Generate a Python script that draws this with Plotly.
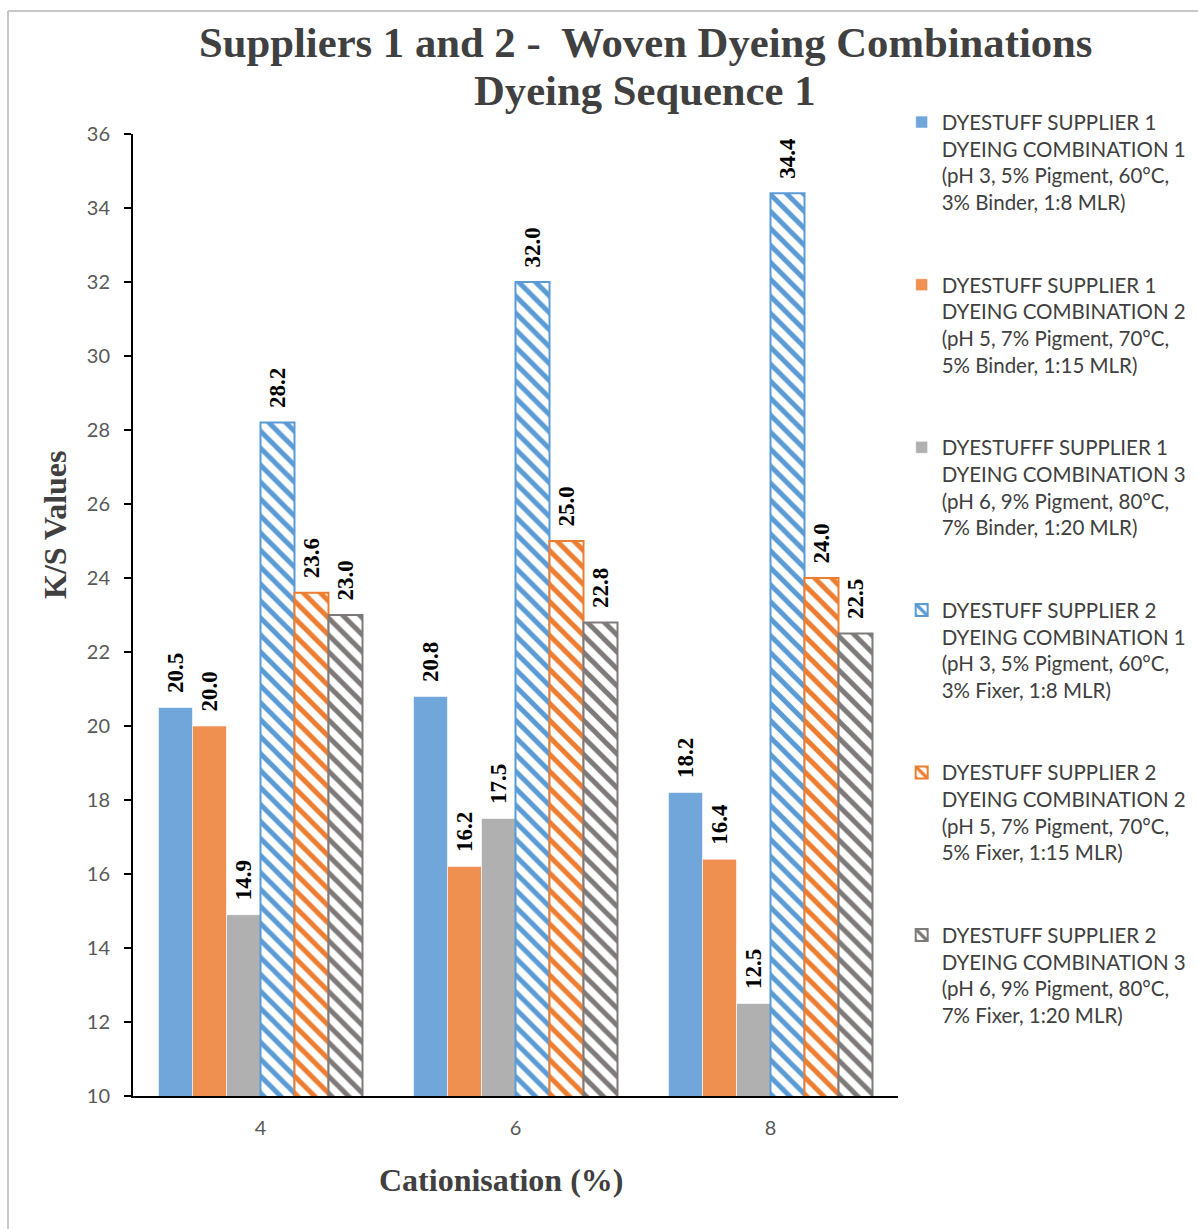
import plotly.graph_objects as go

categories = ["4", "6", "8"]
series_names = [
    "DYESTUFF SUPPLIER 1<br>DYEING COMBINATION 1<br>(pH 3, 5% Pigment, 60°C,<br>3% Binder, 1:8 MLR)",
    "DYESTUFF SUPPLIER 1<br>DYEING COMBINATION 2<br>(pH 5, 7% Pigment, 70°C,<br>5% Binder, 1:15 MLR)",
    "DYESTUFFF SUPPLIER 1<br>DYEING COMBINATION 3<br>(pH 6, 9% Pigment, 80°C,<br>7% Binder, 1:20 MLR)",
    "DYESTUFF SUPPLIER 2<br>DYEING COMBINATION 1<br>(pH 3, 5% Pigment, 60°C,<br>3% Fixer, 1:8 MLR)",
    "DYESTUFF SUPPLIER 2<br>DYEING COMBINATION 2<br>(pH 5, 7% Pigment, 70°C,<br>5% Fixer, 1:15 MLR)",
    "DYESTUFF SUPPLIER 2<br>DYEING COMBINATION 3<br>(pH 6, 9% Pigment, 80°C,<br>7% Fixer, 1:20 MLR)",
]
s1_c1 = [20.5, 20.8, 18.2]
s1_c2 = [20.0, 16.2, 16.4]
s1_c3 = [14.9, 17.5, 12.5]
s2_c1 = [28.2, 32.0, 34.4]
s2_c2 = [23.6, 25.0, 24.0]
s2_c3 = [23.0, 22.8, 22.5]
values = [s1_c1, s1_c2, s1_c3, s2_c1, s2_c2, s2_c3]
title_lines = ["Suppliers 1 and 2 -  Woven Dyeing Combinations", "Dyeing Sequence 1"]
x_title = "Cationisation (%)"
y_title = "K/S Values"

colors = ["#70A6DA", "#EF8F50", "#B0B0B0", "#5B9BD5", "#ED7D31", "#7F7A7A"]
patterned = [False, False, False, True, True, True]

L, R, T, B = 133, 898, 134, 1096
W, H = R - L, B - T

def px(x):
    return (x - L) / W

def py(y):
    return (B - y) / H

fig = go.Figure()
for i, (name, vals) in enumerate(zip(series_names, values)):
    if patterned[i]:
        marker = dict(
            color="white",
            pattern=dict(shape="\\", fgcolor=colors[i], bgcolor="white",
                         size=12, solidity=0.42, fillmode="replace"),
            line=dict(color=colors[i], width=2),
        )
    else:
        marker = dict(color=colors[i], line=dict(color="rgba(255,255,255,0.6)", width=1))
    fig.add_trace(go.Bar(
        x=categories, y=vals, name=name,
        marker=marker,
        text=["\u00a0\u00a0" + f"{v:.1f}" for v in vals],
        textposition="outside", textangle=-90, constraintext="none",
        textfont=dict(family="Liberation Serif", size=23, color="black", weight="bold"),
        cliponaxis=False,
        legendgroup=str(i),
    ))

fig.update_layout(
    width=1198, height=1229,
    margin=dict(l=L, r=1198 - R, t=T, b=1229 - B, autoexpand=False),
    paper_bgcolor="white", plot_bgcolor="white",
    barmode="group", bargap=0.2, bargroupgap=0,
    legend=dict(
        x=1.0048, xanchor="left", y=1.033, yanchor="top",
        font=dict(family="Lato", size=20.5, color="#404040"),
        tracegroupgap=53, itemwidth=30, valign="top",
        bgcolor="rgba(0,0,0,0)", maxheight=1200,
    ),
    showlegend=True,
)
for txt, yy in zip(title_lines, [42, 90]):
    fig.add_annotation(
        text=txt, xref="paper", yref="paper",
        x=px(645), y=py(yy),
        xanchor="center", yanchor="middle", showarrow=False,
        font=dict(family="Liberation Serif", size=42.7, color="#404040", weight="bold"),
    )
fig.add_annotation(
    text=x_title, xref="paper", yref="paper", x=px(501), y=py(1180),
    xanchor="center", yanchor="middle", showarrow=False,
    font=dict(family="Liberation Serif", size=32, color="#404040", weight="bold"),
)
fig.add_annotation(
    text=y_title, xref="paper", yref="paper", x=px(55), y=py(525),
    xanchor="center", yanchor="middle", showarrow=False, textangle=-90,
    font=dict(family="Liberation Serif", size=32, color="#404040", weight="bold"),
)

fig.update_xaxes(
    type="category",
    showline=True, linecolor="black", linewidth=2,
    ticks="", ticklabelstandoff=13,
    tickfont=dict(family="Lato", size=20, color="#595959"),
    showgrid=False,
)
fig.update_yaxes(
    range=[10, 36], dtick=2,
    showline=True, linecolor="black", linewidth=2,
    ticks="outside", ticklen=7, tickcolor="black", tickwidth=2,
    ticklabelstandoff=10,
    tickfont=dict(family="Lato", size=20, color="#595959"),
    showgrid=False, zeroline=False,
)

# outer border (top and left only visible)
fig.add_shape(type="line", xref="paper", yref="paper",
              x0=px(8), x1=px(1198), y0=py(11), y1=py(11),
              line=dict(color="#C8C8C8", width=2))
fig.add_shape(type="line", xref="paper", yref="paper",
              x0=px(8), x1=px(8), y0=py(11), y1=py(1229),
              line=dict(color="#C8C8C8", width=2))

fig.write_html("out.html")
